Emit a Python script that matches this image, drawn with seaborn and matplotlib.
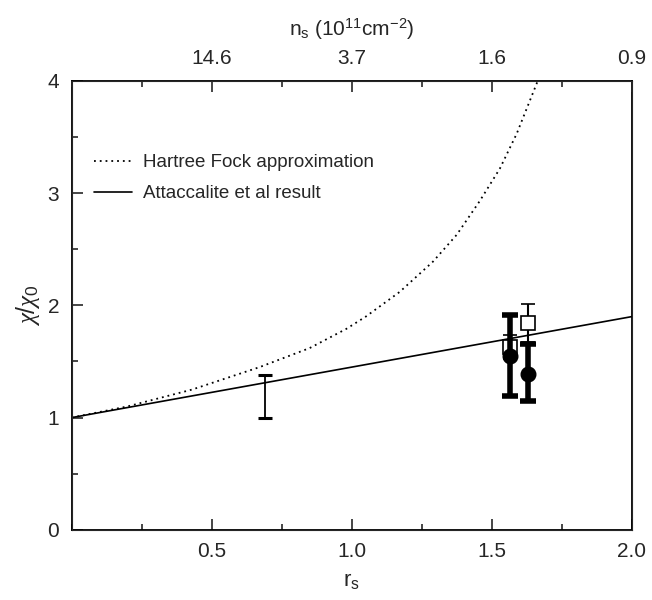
import numpy as np
import pandas as pd
import matplotlib
matplotlib.use("Agg")
import matplotlib.pyplot as plt
import seaborn as sns
from matplotlib.ticker import MultipleLocator, FixedLocator

# ---- data ----
hf_rs = [0.0, 0.2, 0.43, 0.671, 0.85, 0.98, 1.05, 1.171, 1.29, 1.375, 1.457, 1.529, 1.589, 1.664]
hf_chi = [1.0, 1.10, 1.25, 1.45, 1.62, 1.79, 1.90, 2.12, 2.39, 2.63, 2.93, 3.22, 3.53, 4.0]

att_rs = [0.0, 0.5, 1.0, 1.5, 2.0]
att_chi = [1.0, 1.225, 1.45, 1.675, 1.9]

thin_rs = [0.69]
thin_chi = [1.19]
thin_err = [0.19]

sq_rs = [1.564, 1.63]
sq_chi = [1.63, 1.84]
sq_err = [0.11, 0.17]

circ_rs = [1.564, 1.63]
circ_chi = [1.55, 1.39]
circ_lo = [0.36, 0.24]
circ_hi = [0.36, 0.27]

top_tick_pos = [0.5, 1.0, 1.5, 2.0]
top_tick_labels = ["14.6", "3.7", "1.6", "0.9"]

sns.set_style("ticks")
plt.rcParams['font.family'] = ['Liberation Sans', 'DejaVu Sans']
plt.rcParams['mathtext.fontset'] = 'custom'
plt.rcParams['mathtext.rm'] = 'Liberation Sans'
plt.rcParams['mathtext.it'] = 'Liberation Serif:italic'

fig = plt.figure(figsize=(6.52, 6.0), dpi=100)
ax = fig.add_axes([0.110, 0.117, 0.859, 0.748])

hf_df = pd.DataFrame({"rs": hf_rs, "chi": hf_chi})
att_df = pd.DataFrame({"rs": att_rs, "chi": att_chi})

sns.lineplot(data=hf_df, x="rs", y="chi", ax=ax, color="black", linestyle=(0, (1, 2.2)),
             linewidth=1.3, label="Hartree Fock approximation")
sns.lineplot(data=att_df, x="rs", y="chi", ax=ax, color="black", linewidth=1.2,
             label="Attaccalite et al result")

ax.errorbar(thin_rs, thin_chi, yerr=thin_err, fmt="none", ecolor="black",
            elinewidth=1.3, capsize=5, capthick=2.2, zorder=3)
ax.errorbar(sq_rs, sq_chi, yerr=sq_err, fmt="s", mfc="white", mec="black", mew=1.2,
            ms=9.5, ecolor="black", elinewidth=1.5, capsize=5, capthick=2, zorder=3)
ax.errorbar(circ_rs, circ_chi, yerr=[circ_lo, circ_hi], fmt="o", color="black",
            ms=10.5, elinewidth=4, capsize=6, capthick=4, zorder=4)

ax.set_xlim(0, 2.0)
ax.set_ylim(0, 4)
ax.xaxis.set_major_locator(FixedLocator([0.5, 1.0, 1.5, 2.0]))
ax.xaxis.set_minor_locator(MultipleLocator(0.25))
ax.yaxis.set_major_locator(MultipleLocator(1))
ax.yaxis.set_minor_locator(MultipleLocator(0.5))
ax.xaxis.set_major_formatter(matplotlib.ticker.FormatStrFormatter("%.1f"))
ax.tick_params(which="both", direction="in", labelsize=15, width=1.2, top=False, right=False)
ax.tick_params(which="major", length=8)
ax.tick_params(which="minor", length=4)
ax.tick_params(axis="x", pad=9)
ax.tick_params(axis="y", pad=9)
for s in ax.spines.values():
    s.set_linewidth(1.3)
    s.set_color("black")
    s.set_visible(True)

ax.set_xlabel("r$_\\mathregular{s}$", fontsize=16, labelpad=6)
ax.set_ylabel("$\\chi$/$\\chi_\\mathregular{0}$", fontsize=18, labelpad=4)

top = ax.twiny()
top.set_xlim(ax.get_xlim())
top.xaxis.set_major_locator(FixedLocator(top_tick_pos))
top.xaxis.set_minor_locator(MultipleLocator(0.25))
top.set_xticklabels(top_tick_labels)
top.tick_params(which="both", direction="in", labelsize=15, width=1.2, pad=9)
top.tick_params(which="major", length=8)
top.tick_params(which="minor", length=4)
top.set_xlabel("n$_\\mathregular{s}$ (10$^{\\mathregular{11}}$cm$^{\\mathregular{-2}}$)", fontsize=15, labelpad=10)

leg = ax.legend(loc="upper left", bbox_to_anchor=(0.01, 0.875), frameon=False, fontsize=13.5,
                handlelength=2.0, handletextpad=0.6, labelspacing=0.75)

fig.savefig("out.png", dpi=100)
